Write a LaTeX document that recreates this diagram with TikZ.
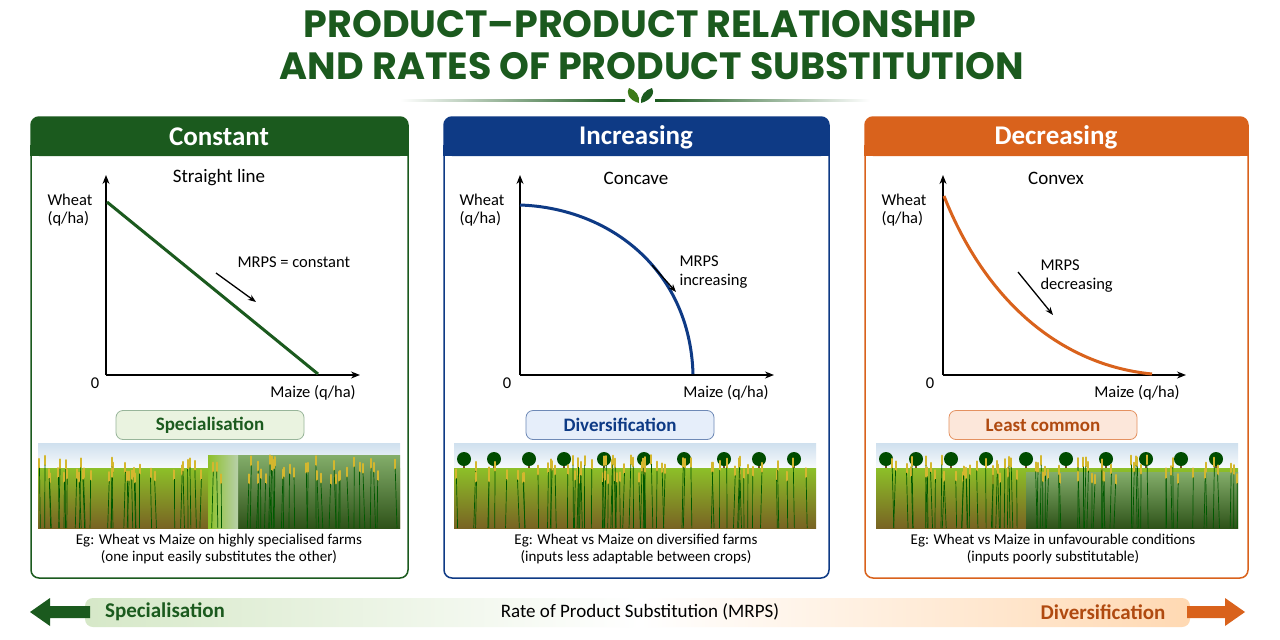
\documentclass[tikz,border=0pt]{standalone}
\usepackage{fontspec}
\setmainfont{Carlito}
\newfontfamily\titlefont{Poppins}[UprightFont=* Bold]
\usetikzlibrary{arrows.meta,shapes.geometric}
\definecolor{cgreen}{HTML}{1B5A1E}
\definecolor{cblue}{HTML}{0E3A85}
\definecolor{corange}{HTML}{D9621C}
\definecolor{cbrown}{HTML}{B04A10}
\definecolor{lgreen}{HTML}{EAF3E0}
\definecolor{lblue}{HTML}{E6EEFA}
\definecolor{lorange}{HTML}{FCE7DA}
\definecolor{sky}{HTML}{CFE0EE}
\definecolor{wheat}{HTML}{C9A53A}
\definecolor{maize}{HTML}{4E8A2A}
\definecolor{bargreen}{HTML}{D6E8C8}
\tikzset{
  panel/.style={draw=#1,line width=1.5pt,rounded corners=8pt,fill=white},
  head/.style={fill=#1,rounded corners=8pt},
  htext/.style={text=white,font=\fontsize{27}{29}\selectfont\bfseries},
  sub/.style={font=\fontsize{19}{21}\selectfont},
  lab/.style={font=\fontsize{16.5}{18.5}\selectfont},
  axis/.style={line width=1.3pt,-{Stealth[length=9pt,width=7pt]}},
  marrow/.style={line width=1.3pt,-{Stealth[length=8pt,width=6pt]}},
  pill/.style={draw=#1,rounded corners=7pt,line width=0.8pt,minimum width=188pt,minimum height=29pt,font=\fontsize{19}{21}\selectfont\bfseries},
  captext/.style={font=\fontsize{15}{17}\selectfont,align=center},
}
\begin{document}
\begin{tikzpicture}[x=1pt,y=-1pt]
\useasboundingbox (0,0) rectangle (1280,640);
\fill[white] (0,0) rectangle (1280,640);
% title
\node[font=\titlefont\fontsize{38}{40}\selectfont,text=cgreen] (t1) at (640,24) {PRODUCT–PRODUCT RELATIONSHIP};
\node[font=\titlefont\fontsize{38}{40}\selectfont,text=cgreen] (t2) at (652,66) {AND RATES OF PRODUCT SUBSTITUTION};
\shade[left color=white,right color=cgreen] (400,99.5) rectangle (625,101);
\shade[left color=cgreen,right color=white] (655,99.5) rectangle (870,101);
\fill[cgreen!80!lime] (639,103) .. controls (628,100) and (626,92) .. (629,88) .. controls (636,90) and (640,96) .. (639,103);
\fill[cgreen] (641,103) .. controls (652,100) and (655,92) .. (652,88) .. controls (645,90) and (640,96) .. (641,103);

% panels
\foreach \x/\w/\c in {31/377/cgreen,444/385/cblue,865/383/corange}{
  \draw[panel=\c] (\x,117) rectangle ++(\w,461);
  \fill[head=\c] (\x,117) rectangle ++(\w,39);
  \fill[\c] (\x-0.75,145) rectangle ++(\w+1.5,11);
}
\node[htext] (h1) at (219,137) {Constant};
\node[htext] (h2) at (636,137) {Increasing};
\node[htext] (h3) at (1056,137) {Decreasing};
\node[sub] (s1) at (219,178) {Straight line};
\node[sub] (s2) at (636,178) {Concave};
\node[sub] (s3) at (1056,178) {Convex};

% axes
\foreach \ox/\xe/\n in {106/360/1,520/774/2,943/1186/3}{
  \coordinate (o\n) at (\ox,375);
  \draw[axis] (\ox,375) -- (\ox,175);
  \draw[axis] (\ox,375) -- (\xe,375);
}
\node[lab,align=left,anchor=west] (w1) at (44,210) {Wheat\\(q/ha)};
\node[lab,align=left,anchor=west] (w2) at (456,210) {Wheat\\(q/ha)};
\node[lab,align=left,anchor=west] (w3) at (878,210) {Wheat\\(q/ha)};
\node[lab] (z1) at (95,383) {0};
\node[lab] (z2) at (507,383) {0};
\node[lab] (z3) at (930,383) {0};
\node[lab] (m1) at (313,393) {Maize (q/ha)};
\node[lab] (m2) at (726,393) {Maize (q/ha)};
\node[lab] (m3) at (1137,393) {Maize (q/ha)};

% curves
\draw[cgreen,line width=3pt] (107,202) -- (318,374);
\draw[cblue,line width=3pt] (520,205) .. controls (610,208) and (690,270) .. (693,374);
\draw[corange,line width=3pt] (944,196) .. controls (985,300) and (1060,365) .. (1152,374);

% MRPS labels
\node[lab,anchor=west] (r1) at (234,262) {MRPS = constant};
\draw[marrow] (216,273) -- (256,302);
\node[lab,anchor=west,align=left] (r2) at (676,272) {MRPS\\increasing};
\draw[marrow] (652,265) -- (676,292);
\node[lab,anchor=west,align=left] (r3) at (1037,276) {MRPS\\decreasing};
\draw[marrow] (1018,272) -- (1053,315);

% pills
\node[pill=cgreen!45,fill=lgreen,text=cgreen] (p1) at (210,425) {Specialisation};
\node[pill=cblue!60,fill=lblue,text=cblue] (p2) at (620,425) {Diversification};
\node[pill=corange!70,fill=lorange,text=cbrown] (p3) at (1043,425) {Least common};

% photos
\pgfmathsetseed{7}
\foreach \px/\kind in {38/1,454/2,876/3}{
  \begin{scope}
  \clip (\px,443) rectangle ++(362,85);
  \shade[top color=sky,bottom color=white] (\px,443) rectangle ++(362,30);
  \ifnum\kind>1
    \foreach \tx in {10,40,75,110,150,190,230,270,305,340}{
      \fill[brown!60!black] (\px+\tx-1,462) rectangle ++(2,10);
      \fill[green!30!black] (\px+\tx,459) circle[radius=7];
    }
  \fi
  \shade[top color=wheat!70!green,bottom color=wheat!60!black] (\px,468) rectangle ++(362,60);
  \ifnum\kind=1
    \shade[top color=maize!70,bottom color=maize!60!black] (\px+190,455) rectangle ++(172,73);
    \shade[left color=wheat!70!green,right color=white!60!maize] (\px+170,455) rectangle ++(30,73);
  \fi
  \ifnum\kind=3
    \shade[top color=maize!70,bottom color=maize!60!black] (\px+150,472) rectangle ++(212,56);
  \fi
  \foreach \i in {0,...,70}{
    \pgfmathsetmacro\sx{\px+rnd*362}
    \pgfmathsetmacro\sy{455+rnd*20}
    \draw[wheat!80!yellow,line width=2pt,line cap=round] (\sx,\sy) -- (\sx,\sy+9);
    \draw[green!35!black,line width=0.7pt] (\sx,\sy+9) -- (\sx+rnd*4-2,528);
  }
  \end{scope}
}

% captions
\node[captext] (c1) at (219,549) {Eg: Wheat vs Maize on highly specialised farms\\(one input easily substitutes the other)};
\node[captext] (c2) at (636,549) {Eg: Wheat vs Maize on diversified farms\\(inputs less adaptable between crops)};
\node[captext] (c3) at (1053,549) {Eg: Wheat vs Maize in unfavourable conditions\\(inputs poorly substitutable)};

% bottom bar
\shade[left color=bargreen,right color=white,rounded corners=8pt] (85,598) rectangle (640,627);
\shade[left color=white,right color=orange!30,rounded corners=8pt] (640,598) rectangle (1190,627);
\fill[cgreen] (30,612) -- (50,598) -- (50,606) -- (90,606) -- (90,618) -- (50,618) -- (50,626) -- cycle;
\fill[corange] (1245,612) -- (1225,598) -- (1225,606) -- (1187,606) -- (1187,618) -- (1225,618) -- (1225,626) -- cycle;
\node[font=\fontsize{21}{23}\selectfont\bfseries,text=cgreen] (b1) at (165,612) {Specialisation};
\node[font=\fontsize{19}{21}\selectfont] (b2) at (640,612) {Rate of Product Substitution (MRPS)};
\node[font=\fontsize{21}{23}\selectfont\bfseries,text=cbrown] (b3) at (1103,612) {Diversification};
\end{tikzpicture}
\end{document}
